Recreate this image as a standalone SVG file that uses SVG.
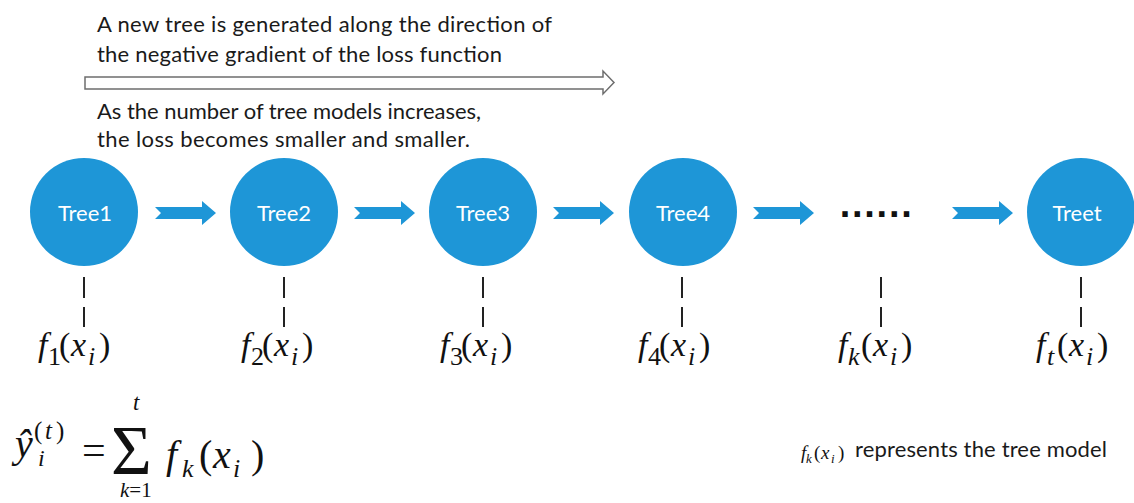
<svg xmlns="http://www.w3.org/2000/svg" width="1134" height="503" viewBox="0 0 1134 503">
<style>
.sans{font-family:Lato,"Liberation Sans",sans-serif;fill:#1a1a1a}
.note{font-size:22px}
.node{fill:#1E96D7}
.lbl{font-family:Lato,"Liberation Sans",sans-serif;font-size:22px;fill:#fff;text-anchor:middle}
.blk{fill:#1E96D7}
.dash{stroke:#222;stroke-width:2}
.m{font-family:"Liberation Serif","Times New Roman",serif;fill:#111}
.it{font-style:italic}
</style>
<rect width="1134" height="503" fill="#fff"/>
<g id="header">
<text class="sans note" x="97" y="32" textLength="455">A new tree is generated along the direction of</text>
<text class="sans note" x="97" y="62" textLength="405">the negative gradient of the loss function</text>
<path d="M85,77 L603,77 L603,71 L614,82.5 L603,94 L603,89 L85,89 Z" fill="#fff" stroke="#6e6e6e" stroke-width="1.5"/>
<text class="sans note" x="97" y="119" textLength="384">As the number of tree models increases,</text>
<text class="sans note" x="97" y="147" textLength="373">the loss becomes smaller and smaller.</text>
</g>
<g id="connectors">
<path class="blk" d="M155,207 L202,207 L202,201 L216,213 L202,225 L202,219 L155,219 L161,213 Z"/>
<path class="blk" d="M354,207 L401,207 L401,201 L415,213 L401,225 L401,219 L354,219 L360,213 Z"/>
<path class="blk" d="M553,207 L600,207 L600,201 L614,213 L600,225 L600,219 L553,219 L559,213 Z"/>
<path class="blk" d="M753,207 L800,207 L800,201 L814,213 L800,225 L800,219 L753,219 L759,213 Z"/>
<path class="blk" d="M952,207 L999,207 L999,201 L1013,213 L999,225 L999,219 L952,219 L958,213 Z"/>
<line class="dash" x1="84" y1="277" x2="84" y2="298"/><line class="dash" x1="84" y1="307" x2="84" y2="327"/>
<line class="dash" x1="284" y1="277" x2="284" y2="298"/><line class="dash" x1="284" y1="307" x2="284" y2="327"/>
<line class="dash" x1="483" y1="277" x2="483" y2="298"/><line class="dash" x1="483" y1="307" x2="483" y2="327"/>
<line class="dash" x1="682" y1="277" x2="682" y2="298"/><line class="dash" x1="682" y1="307" x2="682" y2="327"/>
<line class="dash" x1="881" y1="277" x2="881" y2="298"/><line class="dash" x1="881" y1="307" x2="881" y2="327"/>
<line class="dash" x1="1081" y1="277" x2="1081" y2="298"/><line class="dash" x1="1081" y1="307" x2="1081" y2="327"/>
</g>
<g id="tree1">
<circle class="node" cx="84" cy="212" r="54"/>
<text class="lbl" x="85" y="221">Tree1</text>
<text class="m" font-size="34"><tspan class="it" x="38" y="356">f</tspan><tspan x="48" y="365" font-size="26">1</tspan><tspan x="59" y="356">(</tspan><tspan class="it" x="71" y="356">x</tspan><tspan class="it" x="88" y="365" font-size="26">i</tspan><tspan x="99" y="356">)</tspan></text>
</g>
<g id="tree2">
<circle class="node" cx="284" cy="212" r="54"/>
<text class="lbl" x="284" y="221">Tree2</text>
<text class="m" font-size="34"><tspan class="it" x="241" y="356">f</tspan><tspan x="251" y="365" font-size="26">2</tspan><tspan x="262" y="356">(</tspan><tspan class="it" x="274" y="356">x</tspan><tspan class="it" x="291" y="365" font-size="26">i</tspan><tspan x="302" y="356">)</tspan></text>
</g>
<g id="tree3">
<circle class="node" cx="483" cy="212" r="54"/>
<text class="lbl" x="483" y="221">Tree3</text>
<text class="m" font-size="34"><tspan class="it" x="440" y="356">f</tspan><tspan x="450" y="365" font-size="26">3</tspan><tspan x="461" y="356">(</tspan><tspan class="it" x="473" y="356">x</tspan><tspan class="it" x="490" y="365" font-size="26">i</tspan><tspan x="501" y="356">)</tspan></text>
</g>
<g id="tree4">
<circle class="node" cx="683" cy="212" r="54"/>
<text class="lbl" x="683" y="221">Tree4</text>
<text class="m" font-size="34"><tspan class="it" x="638" y="356">f</tspan><tspan x="648" y="365" font-size="26">4</tspan><tspan x="659" y="356">(</tspan><tspan class="it" x="671" y="356">x</tspan><tspan class="it" x="688" y="365" font-size="26">i</tspan><tspan x="699" y="356">)</tspan></text>
</g>
<g id="ellipsis">
<text x="839.7" y="216.7" font-family="Liberation Sans,sans-serif" font-weight="bold" font-size="38" letter-spacing="1.74" fill="#111">......</text>
<text class="m" font-size="34"><tspan class="it" x="838" y="356">f</tspan><tspan class="it" x="848" y="365" font-size="26">k</tspan><tspan x="861" y="356">(</tspan><tspan class="it" x="873" y="356">x</tspan><tspan class="it" x="890" y="365" font-size="26">i</tspan><tspan x="901" y="356">)</tspan></text>
</g>
<g id="treet">
<circle class="node" cx="1081" cy="212" r="54"/>
<text class="lbl" x="1077" y="221">Treet</text>
<text class="m" font-size="34"><tspan class="it" x="1036" y="356">f</tspan><tspan class="it" x="1047" y="365" font-size="26">t</tspan><tspan x="1057" y="356">(</tspan><tspan class="it" x="1069" y="356">x</tspan><tspan class="it" x="1086" y="365" font-size="26">i</tspan><tspan x="1097" y="356">)</tspan></text>
</g>
<g id="formula">
<text class="m it" x="15" y="457" font-size="40">ŷ</text>
<text class="m" font-size="25"><tspan x="34" y="439">(</tspan><tspan class="it" x="45" y="439">t</tspan><tspan x="56" y="439">)</tspan></text>
<text class="m it" x="38" y="466" font-size="24">i</text>
<text class="m" x="82" y="464" font-size="42">=</text>
<text class="m" x="111" y="474" font-size="70">Σ</text>
<text class="m it" x="133" y="410" font-size="23">t</text>
<text class="m" font-size="21"><tspan class="it" x="120" y="497">k</tspan><tspan>=1</tspan></text>
<text class="m" font-size="40"><tspan class="it" x="166" y="468">f</tspan><tspan class="it" x="182" y="477" font-size="26">k</tspan><tspan x="199" y="468">(</tspan><tspan class="it" x="213" y="468">x</tspan><tspan class="it" x="233" y="477" font-size="26">i</tspan><tspan x="251" y="468">)</tspan></text>
</g>
<g id="legend">
<text class="m" font-size="19" fill="#333"><tspan class="it" x="801" y="459">f</tspan><tspan class="it" x="806" y="463" font-size="13">k</tspan><tspan x="814" y="459">(</tspan><tspan class="it" x="821" y="459">x</tspan><tspan class="it" x="831" y="463" font-size="13">i</tspan><tspan x="838" y="459">)</tspan></text>
<text class="sans" x="855" y="457" font-size="22px" textLength="252">represents the tree model</text>
</g>
</svg>
